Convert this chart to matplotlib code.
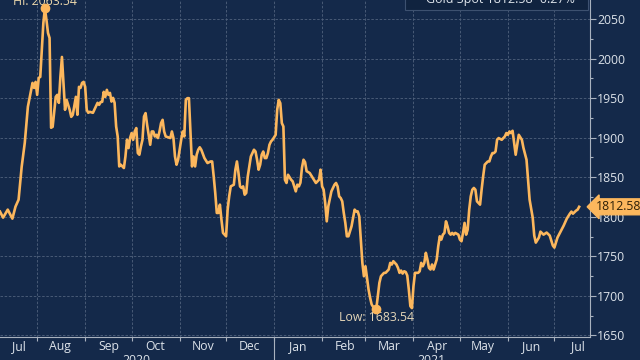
import matplotlib
matplotlib.use("Agg")
import matplotlib.pyplot as plt
import matplotlib.dates as mdates
import matplotlib.ticker as mticker
from matplotlib.patches import Rectangle
import pandas as pd

# gold spot, daily closes
days_2020 = [
    "07-08", "07-10", "07-13", "07-16", "07-18", "07-20", "07-22", "07-24", "07-26", "07-29",
    "07-30", "07-31", "08-01", "08-02", "08-03", "08-04", "08-05", "08-06", "08-07", "08-08",
    "08-09", "08-10", "08-11", "08-13", "08-14", "08-15", "08-16", "08-17", "08-18", "08-19",
    "08-20", "08-21", "08-22", "08-23", "08-24", "08-26", "08-27", "08-28", "08-29", "08-30",
    "08-31", "09-01", "09-02", "09-03", "09-04", "09-06", "09-09", "09-10", "09-11", "09-12",
    "09-13", "09-14", "09-15", "09-16", "09-17", "09-18", "09-19", "09-20", "09-21", "09-22",
    "09-23", "09-24", "09-26", "09-27", "09-28", "09-29", "09-30", "10-01", "10-02", "10-03",
    "10-04", "10-05", "10-06", "10-07", "10-08", "10-09", "10-10", "10-11", "10-13", "10-14",
    "10-15", "10-16", "10-17", "10-18", "10-19", "10-20", "10-21", "10-22", "10-23", "10-26",
    "10-27", "10-28", "10-29", "10-30", "10-31", "11-01", "11-02", "11-03", "11-04", "11-05",
    "11-06", "11-07", "11-09", "11-10", "11-11", "11-12", "11-13", "11-14", "11-15", "11-17",
    "11-19", "11-21", "11-22", "11-23", "11-24", "11-25", "11-26", "11-27", "11-28", "11-29",
    "12-01", "12-02", "12-03", "12-04", "12-06", "12-07", "12-08", "12-09", "12-10", "12-11",
    "12-12", "12-13", "12-14", "12-15", "12-16", "12-17", "12-19", "12-20", "12-21", "12-22",
    "12-23", "12-24", "12-25", "12-26", "12-27", "12-28", "12-29", "12-30", "12-31",
]
gold_2020 = [
    1806.5, 1798.9, 1809.0, 1797.6, 1812.8, 1821.6, 1863.2, 1893.5, 1939.0, 1969.2,
    1962.9, 1970.5, 1954.1, 1975.5, 1976.8, 2010.9, 2044.9, 2063.54, 2048.7, 2032.3,
    2026.0, 1912.5, 1913.7, 1951.6, 1954.1, 1944.0, 1976.8, 2002.0, 1969.2, 1935.2,
    1947.8, 1941.5, 1935.2, 1926.3, 1928.9, 1951.6, 1928.9, 1964.2, 1962.9, 1969.2,
    1970.5, 1964.2, 1935.2, 1931.4, 1932.6, 1931.4, 1944.0, 1941.5, 1945.0, 1945.3,
    1957.9, 1951.6, 1960.4, 1954.1, 1956.6, 1945.6, 1950.3, 1944.0, 1914.1, 1901.5,
    1863.6, 1865.8, 1861.6, 1876.2, 1897.3, 1886.8, 1899.5, 1905.8, 1897.3, 1907.8,
    1912.1, 1880.5, 1878.4, 1888.9, 1897.3, 1926.7, 1931.0, 1916.2, 1891.0, 1907.8,
    1907.8, 1901.5, 1903.6, 1899.5, 1907.8, 1918.4, 1922.5, 1907.8, 1901.5, 1899.5,
    1907.8, 1899.5, 1876.2, 1865.8, 1872.1, 1884.7, 1897.3, 1907.8, 1901.5, 1947.8,
    1949.9, 1949.9, 1863.6, 1876.2, 1863.6, 1878.4, 1884.7, 1887.8, 1884.7, 1874.2,
    1867.9, 1869.9, 1869.9, 1851.0, 1830.1, 1804.8, 1804.8, 1815.3, 1796.4, 1779.6,
    1775.3, 1809.0, 1825.8, 1838.4, 1840.5, 1859.5, 1869.9, 1855.3, 1838.4, 1836.4,
    1838.4, 1827.9, 1830.1, 1851.0, 1863.6, 1876.2, 1884.7, 1882.5, 1872.1, 1859.5,
    1865.8, 1878.4, 1882.5, 1874.2, 1874.2, 1880.5, 1891.0, 1895.2, 1897.3,
]
days_2021 = [
    "01-02", "01-03", "01-04", "01-05", "01-06", "01-07", "01-08", "01-09", "01-10", "01-12",
    "01-13", "01-14", "01-15", "01-16", "01-17", "01-18", "01-19", "01-20", "01-21", "01-22",
    "01-24", "01-26", "01-28", "01-30", "01-31", "02-01", "02-02", "02-03", "02-04", "02-05",
    "02-07", "02-08", "02-09", "02-10", "02-11", "02-12", "02-13", "02-14", "02-15", "02-16",
    "02-17", "02-18", "02-20", "02-21", "02-22", "02-23", "02-24", "02-25", "02-26", "02-27",
    "02-28", "03-01", "03-02", "03-03", "03-04", "03-05", "03-06", "03-08", "03-09", "03-10",
    "03-11", "03-12", "03-13", "03-14", "03-15", "03-16", "03-17", "03-18", "03-19", "03-21",
    "03-22", "03-23", "03-24", "03-25", "03-26", "03-27", "03-28", "03-29", "03-30", "03-31",
    "04-01", "04-02", "04-04", "04-05", "04-06", "04-07", "04-08", "04-09", "04-10", "04-11",
    "04-12", "04-13", "04-14", "04-16", "04-17", "04-18", "04-19", "04-20", "04-21", "04-22",
    "04-23", "04-24", "04-25", "04-26", "04-27", "04-28", "04-30", "05-01", "05-02", "05-03",
    "05-04", "05-05", "05-06", "05-07", "05-08", "05-09", "05-10", "05-11", "05-12", "05-14",
    "05-15", "05-16", "05-17", "05-18", "05-19", "05-20", "05-21", "05-22", "05-23", "05-24",
    "05-25", "05-26", "05-28", "05-29", "05-30", "05-31", "06-01", "06-02", "06-03", "06-04",
    "06-06", "06-08", "06-10", "06-11", "06-13", "06-14", "06-15", "06-17", "06-18", "06-19",
    "06-21", "06-22", "06-24", "06-26", "06-28", "06-30", "07-01", "07-03", "07-05", "07-07",
    "07-09", "07-11", "07-12", "07-13", "07-15", "07-16", "07-17",
]
gold_2021 = [
    1903.6, 1935.2, 1947.8, 1943.6, 1918.4, 1914.1, 1846.8, 1842.7, 1853.1, 1846.8,
    1844.7, 1838.4, 1832.1, 1840.5, 1838.4, 1843.0, 1862.0, 1872.1, 1869.0, 1857.6,
    1855.3, 1849.0, 1842.7, 1846.8, 1859.5, 1838.4, 1834.2, 1817.4, 1794.2, 1813.2,
    1832.1, 1836.4, 1840.5, 1842.7, 1838.4, 1825.8, 1823.7, 1819.5, 1804.8, 1792.2,
    1775.3, 1775.3, 1787.9, 1798.5, 1809.0, 1806.8, 1806.8, 1800.5, 1771.1, 1741.7,
    1724.8, 1737.4, 1722.8, 1708.0, 1697.6, 1689.1, 1686.0, 1683.54, 1699.6, 1716.5,
    1724.8, 1727.0, 1729.1, 1729.1, 1731.1, 1733.3, 1741.7, 1739.6, 1743.8, 1739.6,
    1735.4, 1729.1, 1732.0, 1728.2, 1731.1, 1730.1, 1725.7, 1708.0, 1687.0, 1684.5,
    1712.2, 1729.1, 1729.1, 1731.1, 1741.7, 1737.4, 1741.7, 1754.4, 1745.9, 1735.4,
    1733.3, 1739.6, 1733.3, 1745.9, 1762.7, 1775.3, 1771.1, 1777.4, 1779.6, 1794.2,
    1787.9, 1779.6, 1777.4, 1779.6, 1777.4, 1779.6, 1777.4, 1771.1, 1769.0, 1779.6,
    1792.2, 1777.4, 1783.7, 1809.0, 1825.8, 1834.2, 1836.4, 1834.2, 1819.5, 1815.3,
    1834.2, 1851.0, 1865.8, 1867.9, 1869.9, 1869.9, 1876.2, 1880.5, 1880.5, 1882.5,
    1897.3, 1899.5, 1897.3, 1899.5, 1901.5, 1905.8, 1903.6, 1907.8, 1905.8, 1908.7,
    1878.4, 1903.6, 1897.3, 1887.2, 1872.1, 1846.8, 1821.6, 1798.9, 1776.2, 1767.3,
    1773.7, 1781.2, 1777.4, 1780.0, 1776.2, 1763.6, 1761.0, 1773.7, 1781.2, 1788.8,
    1797.6, 1803.9, 1806.5, 1803.9, 1807.7, 1809.0, 1812.58,
]

hi_date, hi_val = "2020-08-06", 2063.54
lo_date, lo_val = "2021-03-08", 1683.54
last_val = 1812.58
last_chg = -0.27
legend_name = "Gold Spot"

dates = pd.to_datetime(["2020-" + d for d in days_2020] + ["2021-" + d for d in days_2021])
prices = gold_2020 + gold_2021

plt.rcParams["font.family"] = ["Open Sans", "DejaVu Sans"]
fs = 8.8

bg = "#14294a"
orange = "#fcb75d"
txt = "#dde3ea"
axcol = "#a9b2bf"

fig = plt.figure(figsize=(6.4, 3.6), dpi=100)
fig.patch.set_facecolor(bg)
ax = fig.add_axes([0, 23 / 360, 590 / 640, 337 / 360])
ax.set_facecolor(bg)

ax.plot(dates, prices, color=orange, lw=1.9, solid_joinstyle="round", zorder=3)

ax.set_xlim(pd.Timestamp("2020-07-08"), pd.Timestamp("2021-07-24"))
ax.set_ylim(1648, 2074)

# y axis on the right
ax.yaxis.tick_right()
ax.yaxis.set_major_locator(mticker.MultipleLocator(50))
ax.yaxis.set_minor_locator(mticker.MultipleLocator(25))
ax.tick_params(axis="y", which="major", direction="out", length=4, width=0.8,
               color=axcol, labelcolor=txt, labelsize=fs, pad=1)
ax.tick_params(axis="y", which="minor", direction="out", length=2.5, width=0.8, color=axcol)

# months: ticks at month starts, labels mid-month
ax.xaxis.set_major_locator(mdates.MonthLocator())
ax.xaxis.set_major_formatter(mticker.NullFormatter())
label_pos = list(pd.date_range("2020-07-01", periods=13, freq="MS") + pd.Timedelta(days=15))
label_pos[0] = pd.Timestamp("2020-07-20")
ax.xaxis.set_minor_locator(mticker.FixedLocator(mdates.date2num(label_pos)))
ax.xaxis.set_minor_formatter(mdates.DateFormatter("%b"))
ax.tick_params(axis="x", which="major", direction="out", length=3, width=0.8, color=axcol)
ax.tick_params(axis="x", which="minor", length=0, labelcolor=txt, labelsize=fs, pad=2)

ax.grid(True, which="major", color="#50627d", ls=(0, (3, 2)), lw=0.6)

for s in ["left", "top"]:
    ax.spines[s].set_visible(False)
for s in ["right", "bottom"]:
    ax.spines[s].set_color(axcol)
    ax.spines[s].set_linewidth(0.8)

# year labels under the months
fig.text(136 / 640, 1 - 354 / 360, "2020", ha="center", va="top", fontsize=fs, color=txt)
fig.text(431 / 640, 1 - 354 / 360, "2021", ha="center", va="top", fontsize=fs, color=txt)
ax.plot([pd.Timestamp("2021-01-01")] * 2, [0, -0.08], color=axcol, lw=0.8,
        transform=ax.get_xaxis_transform(), clip_on=False)

# high / low markers
hi_x, lo_x = pd.Timestamp(hi_date), pd.Timestamp(lo_date)
ax.plot([hi_x], [hi_val], "o", color=orange, ms=6, zorder=4)
ax.plot([lo_x], [lo_val], "o", color=orange, ms=6, zorder=4)
ax.annotate(f"Hi: {hi_val:.2f}", (hi_x, hi_val), xytext=(0, 2.5), textcoords="offset points",
            ha="center", va="baseline", fontsize=fs, color="#ecd8ac", annotation_clip=False)
ax.annotate(f"Low: {lo_val:.2f}", (lo_x, lo_val), xytext=(0, -6), textcoords="offset points",
            ha="center", va="center", fontsize=fs, color="#e4d6b8")

# last price tag
ax.annotate(f"{last_val:.2f}", xy=(1, last_val), xycoords=("axes fraction", "data"),
            xytext=(4, 0), textcoords="offset points", ha="left", va="center",
            fontsize=fs, color="#2e2008", zorder=6, annotation_clip=False,
            bbox=dict(boxstyle="larrow,pad=0.12", fc=orange, ec=orange))

# legend box at the top (mostly cut off)
fig.add_artist(Rectangle((405 / 640, 1 - 10 / 360), 183 / 640, 20 / 360,
                         transform=fig.transFigure, fc="#10233f", ec="#3d5170", lw=0.8, zorder=5))
fig.text(500 / 640, 1 - 3 / 360, f"{legend_name} {last_val:.2f} {last_chg:.2f}%",
         ha="center", va="baseline", fontsize=9, color=txt, zorder=6)

fig.savefig("out.png", dpi=100, facecolor=bg)
